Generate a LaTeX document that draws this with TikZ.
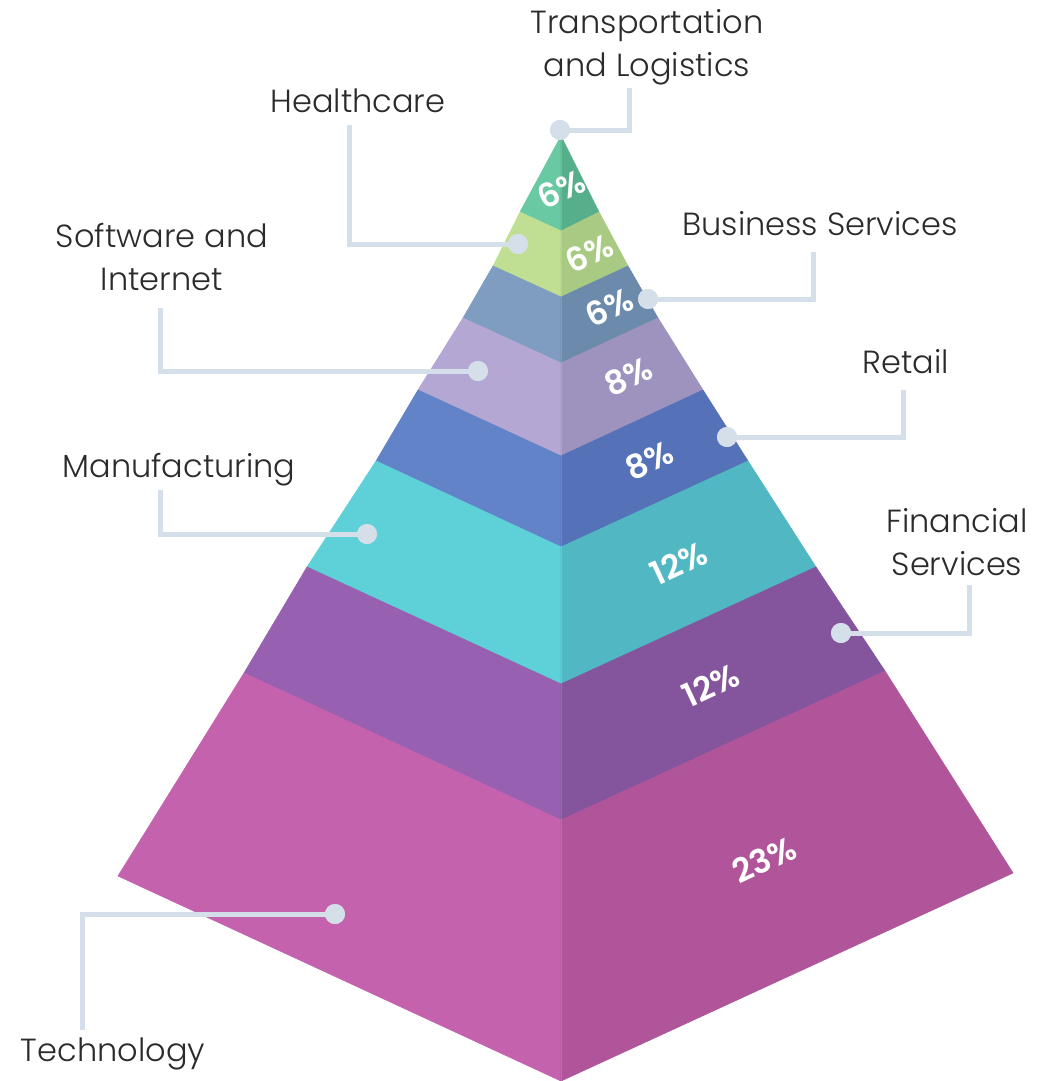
\documentclass[tikz,border=0pt]{standalone}
\usepackage{fontspec}
\setmainfont{Poppins}
\newfontfamily\lblfont{Poppins Light}
\newfontfamily\pctfont{Poppins SemiBold}
\definecolor{l1}{HTML}{68C9A3}\definecolor{r1}{HTML}{56AE8A}
\definecolor{l2}{HTML}{C0DF93}\definecolor{r2}{HTML}{A9CA82}
\definecolor{l3}{HTML}{7F9DC0}\definecolor{r3}{HTML}{6C8BAC}
\definecolor{l4}{HTML}{B4A7D4}\definecolor{r4}{HTML}{9E92BF}
\definecolor{l5}{HTML}{6383C9}\definecolor{r5}{HTML}{5571B8}
\definecolor{l6}{HTML}{5ED0D8}\definecolor{r6}{HTML}{51B8C3}
\definecolor{l7}{HTML}{9760B0}\definecolor{r7}{HTML}{84549C}
\definecolor{l8}{HTML}{C462AE}\definecolor{r8}{HTML}{B05599}
\definecolor{conn}{HTML}{D5DFE9}
\definecolor{txt}{HTML}{2B2B2B}
\tikzset{
  face/.style={fill=#1, draw=#1, line width=0.6pt, line join=round},
  pct/.style={text=white, font=\pctfont\fontsize{33}{33}\selectfont, rotate=25, inner sep=0pt},
  lbl/.style={text=txt, font=\lblfont\fontsize{32}{43}\selectfont, align=center, inner sep=0pt},
  conline/.style={draw=conn, line width=5pt},
  dotc/.style={circle, fill=conn, minimum size=20pt, inner sep=0pt},
}
\begin{document}
\begin{tikzpicture}[x=1pt,y=-1pt]
\useasboundingbox (0,0) rectangle (1055,1081);
% boundary points
\coordinate (A) at (561,136);
\coordinate (L1) at (520,212); \coordinate (C1) at (561,231); \coordinate (R1) at (599,212);
\coordinate (L2) at (493,266); \coordinate (C2) at (561,297); \coordinate (R2) at (628,266);
\coordinate (L3) at (463,318); \coordinate (C3) at (561,363); \coordinate (R3) at (658,318);
\coordinate (L4) at (418,390); \coordinate (C4) at (561,456); \coordinate (R4) at (703,390);
\coordinate (L5) at (376,461); \coordinate (C5) at (561,547); \coordinate (R5) at (748,461);
\coordinate (L6) at (307,567); \coordinate (C6) at (561,684); \coordinate (R6) at (816,567);
\coordinate (L7) at (244,673); \coordinate (C7) at (561,820); \coordinate (R7) at (885,671);
\coordinate (L8) at (118,876); \coordinate (C8) at (561,1081); \coordinate (R8) at (1013,873);
% faces
\path[face=l1] (A) -- (L1) -- (C1) -- cycle;
\path[face=r1] (A) -- (C1) -- (R1) -- cycle;
\path[face=l2] (L1) -- (L2) -- (C2) -- (C1) -- cycle;
\path[face=r2] (C1) -- (C2) -- (R2) -- (R1) -- cycle;
\path[face=l3] (L2) -- (L3) -- (C3) -- (C2) -- cycle;
\path[face=r3] (C2) -- (C3) -- (R3) -- (R2) -- cycle;
\path[face=l4] (L3) -- (L4) -- (C4) -- (C3) -- cycle;
\path[face=r4] (C3) -- (C4) -- (R4) -- (R3) -- cycle;
\path[face=l5] (L4) -- (L5) -- (C5) -- (C4) -- cycle;
\path[face=r5] (C4) -- (C5) -- (R5) -- (R4) -- cycle;
\path[face=l6] (L5) -- (L6) -- (C6) -- (C5) -- cycle;
\path[face=r6] (C5) -- (C6) -- (R6) -- (R5) -- cycle;
\path[face=l7] (L6) -- (L7) -- (C7) -- (C6) -- cycle;
\path[face=r7] (C6) -- (C7) -- (R7) -- (R6) -- cycle;
\path[face=l8] (L7) -- (L8) -- (C8) -- (C7) -- cycle;
\path[face=r8] (C7) -- (C8) -- (R8) -- (R7) -- cycle;
\draw[white, opacity=0.15, line width=0.8pt] (A) -- (C8);
% percentages
\node[pct] (p1) at (561,189) {6\%};
\node[pct] (p2) at (589,253) {6\%};
\node[pct] (p3) at (609,307) {6\%};
\node[pct] (p4) at (628,376) {8\%};
\node[pct] (p5) at (649,460) {8\%};
\node[pct] (p6) at (679,563) {12\%};
\node[pct] (p7) at (711,685) {12\%};
\node[pct] (p8) at (764,860) {23\%};
% labels
\node[lbl] (t1) at (647,47) {Transportation\\and Logistics};
\node[lbl] (t2) at (358,101) {Healthcare};
\node[lbl] (t3) at (820,224) {Business Services};
\node[lbl] (t4) at (162,257) {Software and\\Internet};
\node[lbl] (t5) at (906,362) {Retail};
\node[lbl] (t6) at (179,470) {Manufacturing};
\node[lbl] (t7) at (957,542) {Financial\\Services};
\node[lbl] (t8) at (113,1054) {Technology};
% connectors
\coordinate (k1) at (629,88);  \node[dotc] (d1) at (560,130) {};
\coordinate (k2) at (349,125); \node[dotc] (d2) at (518,244) {};
\coordinate (k3) at (813,252); \node[dotc] (d3) at (648,299) {};
\coordinate (k4) at (160,308); \node[dotc] (d4) at (478,371) {};
\coordinate (k5) at (903,390); \node[dotc] (d5) at (727,437) {};
\coordinate (k6) at (160,490); \node[dotc] (d6) at (367,534) {};
\coordinate (k7) at (969,585); \node[dotc] (d7) at (841,633) {};
\coordinate (k8) at (82,1030); \node[dotc] (d8) at (335,914) {};
\draw[conline] (d1.center) -| (k1);
\draw[conline] (d2.center) -| (k2);
\draw[conline] (d3.center) -| (k3);
\draw[conline] (d4.center) -| (k4);
\draw[conline] (d5.center) -| (k5);
\draw[conline] (d6.center) -| (k6);
\draw[conline] (d7.center) -| (k7);
\draw[conline] (d8.center) -| (k8);
\foreach \d in {d1,d2,d3,d4,d5,d6,d7,d8} \fill[conn] (\d) circle (10pt);
\end{tikzpicture}
\end{document}
